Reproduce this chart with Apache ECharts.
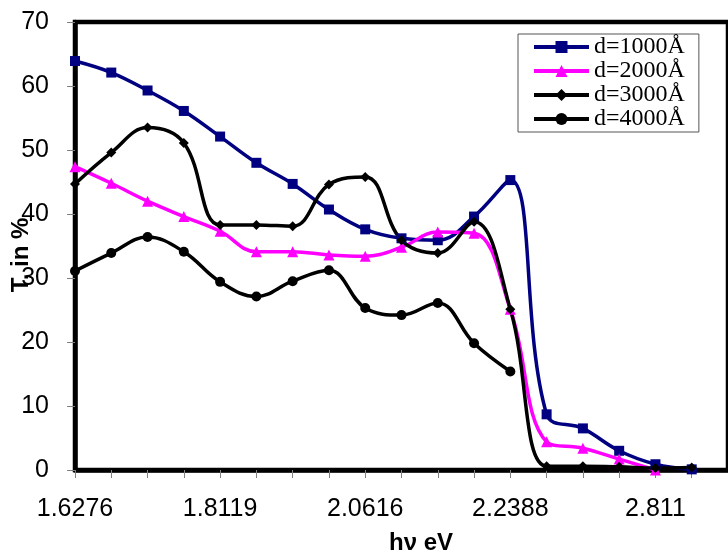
<!DOCTYPE html>
<html>
<head>
<meta charset="utf-8">
<script src="https://cdn.jsdelivr.net/npm/echarts@6/dist/echarts.min.js"></script>
<style>
  html, body { margin: 0; padding: 0; background: #ffffff; }
  #chart { width: 728px; height: 555px; }
</style>
</head>
<body>
<div id="chart"></div>
<script>
// Photon energy categories (hν, eV); only every 4th label is shown
const energies = ['1.6276','1.6737','1.7198','1.7658','1.8119','1.8743','1.9368','1.9992','2.0616','2.1059','2.1502','2.1945','2.2388','2.3819','2.5249','2.668','2.811','2.95','3.1'];
const d1000 = [63.9, 62.1, 59.3, 56.1, 52.1, 48.0, 44.7, 40.7, 37.6, 36.2, 35.9, 39.6, 45.3, 8.7, 6.5, 3.0, 0.9, 0.1, null];
const d2000 = [47.4, 44.8, 42.0, 39.6, 37.3, 34.1, 34.1, 33.6, 33.4, 34.8, 37.2, 37.0, 25.1, 4.4, 3.4, 1.7, 0.0, null, null];
const d3000 = [44.7, 49.6, 53.5, 51.1, 38.3, 38.3, 38.1, 44.6, 45.8, 35.9, 33.9, 38.8, 25.1, 0.6, 0.6, 0.5, 0.3, 0.4, null];
const d4000 = [31.1, 33.9, 36.4, 34.1, 29.4, 27.1, 29.5, 31.2, 25.3, 24.2, 26.1, 19.8, 15.4, null, null, null, null, null, null];
const seriesNames = ['d=1000Å', 'd=2000Å', 'd=3000Å', 'd=4000Å'];
const yTicks = { min: 0, max: 70, interval: 10 };

const chart = echarts.init(document.getElementById('chart'), null, { renderer: 'canvas' });

function mkSeries(name, data, color, symbol, size) {
  return {
    name: name,
    type: 'line',
    data: data,
    smooth: 0.4,
    symbol: symbol,
    symbolSize: size,
    showSymbol: true,
    connectNulls: false,
    lineStyle: { color: color, width: 3.5 },
    itemStyle: { color: color, borderWidth: 0 },
    emphasis: { disabled: true },
    animation: false
  };
}

chart.setOption({
  animation: false,
  backgroundColor: '#ffffff',
  grid: {
    left: 75, right: -6, top: 22, bottom: 85,
    show: true, borderColor: '#000000', borderWidth: 4.5, backgroundColor: 'transparent'
  },
  legend: {
    orient: 'vertical',
    left: 518, top: 34,
    padding: [1, 14, 1, 14],
    itemGap: 0,
    itemWidth: 55,
    itemHeight: 15,
    borderColor: '#555555', borderWidth: 1,
    backgroundColor: '#ffffff',
    data: seriesNames,
    lineStyle: { width: 4 },
    textStyle: { fontFamily: 'Liberation Serif', fontSize: 24, color: '#000000', lineHeight: 24 }
  },
  xAxis: {
    type: 'category',
    data: energies,
    boundaryGap: false,
    axisLine: { show: true, lineStyle: { color: '#000000', width: 4.5 } },
    axisTick: { show: true, inside: false, length: 8, interval: 0, lineStyle: { color: '#808080', width: 1 } },
    axisLabel: { interval: 3, margin: 27, fontFamily: 'Liberation Sans', fontSize: 25, color: '#000000' },
    splitLine: { show: false }
  },
  yAxis: {
    type: 'value',
    min: yTicks.min, max: yTicks.max, interval: yTicks.interval,
    axisLine: { show: true, lineStyle: { color: '#000000', width: 4.5 } },
    axisTick: { show: true, inside: false, length: 8, lineStyle: { color: '#808080', width: 1 } },
    axisLabel: { margin: 26, fontFamily: 'Liberation Sans', fontSize: 25, color: '#000000' },
    splitLine: { show: false }
  },
  graphic: [
    { type: 'text', x: 421, y: 543, style: { text: 'hν eV', fontFamily: 'Liberation Sans', fontWeight: 'bold', fontSize: 24, fill: '#000000', textAlign: 'center', textVerticalAlign: 'middle' } },
    { type: 'text', x: 21, y: 255, rotation: Math.PI / 2, style: { text: 'T, in %', fontFamily: 'Liberation Sans', fontWeight: 'bold', fontSize: 24, fill: '#000000', textAlign: 'center', textVerticalAlign: 'middle' } }
  ],
  series: [
    mkSeries(seriesNames[0], d1000, '#000080', 'rect', 10),
    mkSeries(seriesNames[1], d2000, '#FF00FF', 'triangle', 11),
    mkSeries(seriesNames[2], d3000, '#000000', 'diamond', 10),
    mkSeries(seriesNames[3], d4000, '#000000', 'circle', 10)
  ]
});
</script>
</body>
</html>
